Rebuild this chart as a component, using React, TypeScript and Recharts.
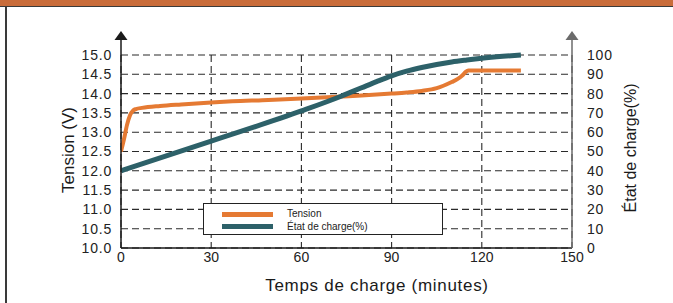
import { LineChart, Line, XAxis, YAxis, CartesianGrid, Legend } from "recharts";

const timeTicks = [0, 30, 60, 90, 120, 150];
const voltTicks = [10, 10.5, 11, 11.5, 12, 12.5, 13, 13.5, 14, 14.5, 15];
const socTicks = [0, 10, 20, 30, 40, 50, 60, 70, 80, 90, 100];

// Tension (V) vs minutes
const tensionMinutes = [0, 1, 2, 3, 4, 5, 7, 13, 20, 30, 37, 47, 60, 72, 80, 90, 95, 100, 105, 110, 112, 113.5, 114.5, 115.5, 125, 133];
const tensionVolts = [12.5, 12.82, 13.19, 13.44, 13.56, 13.6, 13.63, 13.68, 13.72, 13.77, 13.8, 13.83, 13.87, 13.92, 13.95, 14.0, 14.03, 14.07, 14.14, 14.3, 14.38, 14.47, 14.55, 14.6, 14.6, 14.6];

// État de charge (%) vs minutes
const socMinutes = [0, 30, 60, 73, 80, 85, 90, 95, 100, 105, 110, 115, 120, 127, 133];
const socPercent = [40, 55.4, 71, 78.5, 83, 86.2, 89.2, 91.6, 93.5, 95.1, 96.4, 97.4, 98.3, 99.3, 100];

const tensionData = tensionMinutes.map((t, i) => ({ t, v: tensionVolts[i] }));
const socData = socMinutes.map((t, i) => ({ t, soc: socPercent[i] }));

const FONT = "'Liberation Sans', Arial, Helvetica, sans-serif";
const ORANGE = "#E57A33";
const TEAL = "#2D6169";

const W = 673;
const H = 303;
const PLOT_LEFT = 121;
const PLOT_RIGHT = 572;
const PLOT_TOP = 55;
const PLOT_BOTTOM = 248;

const LeftTitle = () => (
  <text
    x={74}
    y={150}
    transform="rotate(-90 74 150)"
    textAnchor="middle"
    fontFamily={FONT}
    fontSize={17}
    fill="#1a1a1a"
  >
    Tension (V)
  </text>
);

const RightTitle = () => (
  <text
    x={636}
    y={148}
    transform="rotate(-90 636 148)"
    textAnchor="middle"
    fontFamily={FONT}
    fontSize={16}
    fill="#1a1a1a"
  >
    État de charge(%)
  </text>
);

const BottomTitle = () => (
  <text x={377} y={291} textAnchor="middle" fontFamily={FONT} fontSize={17} letterSpacing={0.7} fill="#1a1a1a">
    Temps de charge (minutes)
  </text>
);

const ChartLegend = ({ payload }: any) => (
  <div
    style={{
      width: 240,
      height: 32,
      boxSizing: "border-box",
      border: "1px solid #222",
      background: "#fff",
      paddingTop: 4,
      fontFamily: FONT,
    }}
  >
    {(payload || []).map((entry: any) => (
      <div key={entry.value} style={{ display: "flex", alignItems: "center", height: 12.5 }}>
        <span style={{ display: "inline-block", width: 51, height: 5, marginLeft: 18, background: entry.color }} />
        <span style={{ marginLeft: 14, fontSize: 10, color: "#222", lineHeight: "12px" }}>{entry.value}</span>
      </div>
    ))}
  </div>
);

export default function App() {
  return (
    <div style={{ position: "absolute", left: 0, top: 0, width: W, height: H, background: "#fff", overflow: "hidden" }}>
      <div style={{ position: "absolute", left: 0, top: 0, width: W, height: 6, background: "#C96C3A" }} />
      <div style={{ position: "absolute", left: 0, top: 6, width: W, height: 1, background: "#3a3a3a" }} />
      <div style={{ position: "absolute", left: 5, top: 7, width: 2, height: H - 7, background: "#3a3a3a" }} />
      <div style={{ position: "absolute", left: 0, top: 0 }}>
        <LineChart width={W} height={H} margin={{ top: PLOT_TOP, right: 0, bottom: 0, left: 0 }}>
          <CartesianGrid yAxisId="v" stroke="#2a2a2a" strokeDasharray="7 4" strokeWidth={1.1} />
          <XAxis
            dataKey="t"
            type="number"
            domain={[0, 150]}
            ticks={timeTicks}
            height={H - PLOT_BOTTOM}
            allowDataOverflow
            axisLine={{ stroke: "#1a1a1a", strokeWidth: 1.5 }}
            tickLine={false}
            tickSize={0}
            tickMargin={4}
            tick={{ fontSize: 14, fill: "#222", fontFamily: FONT }}
            label={<BottomTitle />}
          />
          <YAxis
            yAxisId="v"
            orientation="left"
            width={PLOT_LEFT}
            domain={[10, 15]}
            ticks={voltTicks}
            interval={0}
            axisLine={{ stroke: "#1a1a1a", strokeWidth: 1.5 }}
            tickLine={false}
            tickSize={0}
            tickMargin={9}
            tickFormatter={(v: number) => v.toFixed(1)}
            tick={{ fontSize: 14, fill: "#222", fontFamily: FONT, letterSpacing: 0.8 }}
            label={<LeftTitle />}
          />
          <YAxis
            yAxisId="soc"
            orientation="right"
            width={W - PLOT_RIGHT}
            domain={[0, 100]}
            ticks={socTicks}
            interval={0}
            axisLine={{ stroke: "#6b6b6b", strokeWidth: 1.5 }}
            tickLine={false}
            tickSize={0}
            tickMargin={15}
            tick={{ fontSize: 14, fill: "#222", fontFamily: FONT, letterSpacing: 0.8 }}
            label={<RightTitle />}
          />
          <Legend
            layout="horizontal"
            verticalAlign="middle"
            align="center"
            content={<ChartLegend />}
            wrapperStyle={{ left: 203, top: 203, width: 240, height: 32 }}
          />
          <Line
            yAxisId="v"
            data={tensionData}
            dataKey="v"
            name="Tension"
            type="monotone"
            stroke={ORANGE}
            strokeWidth={4}
            dot={false}
            activeDot={false}
            isAnimationActive={false}
          />
          <Line
            yAxisId="soc"
            data={socData}
            dataKey="soc"
            name="État de charge(%)"
            type="monotone"
            stroke={TEAL}
            strokeWidth={5}
            dot={false}
            activeDot={false}
            isAnimationActive={false}
          />
        </LineChart>
      </div>
      <svg width={W} height={H} style={{ position: "absolute", left: 0, top: 0, pointerEvents: "none" }}>
        <line x1={PLOT_LEFT} y1={PLOT_TOP} x2={PLOT_LEFT} y2={39} stroke="#1a1a1a" strokeWidth={1.5} />
        <polygon points={`${PLOT_LEFT - 6.5},40 ${PLOT_LEFT + 6.5},40 ${PLOT_LEFT},31`} fill="#1a1a1a" />
        <line x1={PLOT_RIGHT} y1={PLOT_TOP} x2={PLOT_RIGHT} y2={39} stroke="#6b6b6b" strokeWidth={1.5} />
        <polygon points={`${PLOT_RIGHT - 6.5},40 ${PLOT_RIGHT + 6.5},40 ${PLOT_RIGHT},31`} fill="#6b6b6b" />
      </svg>
    </div>
  );
}
